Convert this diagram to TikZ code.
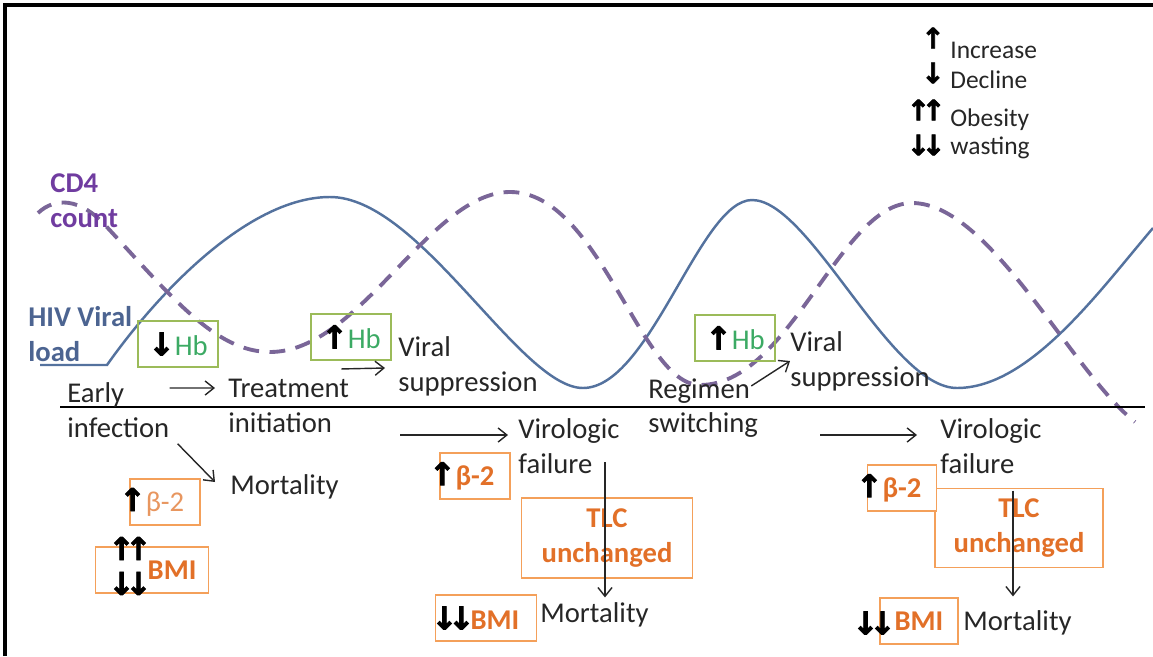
\documentclass[tikz,border=0pt]{standalone}
\usepackage{fontspec}
\setmainfont{Carlito}
\newfontfamily\arrfont{DejaVu Sans}[FakeBold=2.5, Scale=1.1]
\usepackage{tikz}
\usetikzlibrary{arrows.meta, positioning, calc}

\definecolor{txt}{RGB}{38,38,38}
\definecolor{viralblue}{RGB}{84,114,158}
\definecolor{cdpurple}{RGB}{122,102,152}
\definecolor{cdtext}{RGB}{112,60,160}
\definecolor{hivtext}{RGB}{76,100,145}
\definecolor{hbline}{RGB}{155,187,89}
\definecolor{hbtext}{RGB}{60,170,100}
\definecolor{oline}{RGB}{244,160,90}
\definecolor{otext}{RGB}{226,112,40}
\definecolor{otextlight}{RGB}{232,150,95}

\newcommand\arrup{{\color{black}\arrfont\bfseries ↑}}
\newcommand\arrdown{{\color{black}\arrfont\bfseries ↓}}
\newcommand\arrupup{{\color{black}\arrfont\bfseries ↑\kern-.3em↑}}
\newcommand\arrdowndown{{\color{black}\arrfont\bfseries ↓\kern-.3em↓}}

\begin{document}
\begin{tikzpicture}[
    x=0.02cm, y=-0.02cm,
    every node/.style={font=\fontsize{16.3}{19.8}\selectfont, text=txt},
    lbl/.style={inner sep=0pt, anchor=west, align=left},
    curvelbl/.style={lbl, font=\fontsize{16.3}{19.8}\selectfont\bfseries},
    lgd/.style={lbl, font=\fontsize{14.5}{17}\selectfont},
    glyph/.style={inner sep=0pt, align=center},
    lglyph/.style={glyph, font=\fontsize{14.5}{17}\selectfont},
    hbbox/.style={draw=hbline, line width=1.1pt, minimum width=1.6cm, minimum height=0.92cm, inner sep=0pt},
    obox/.style={draw=oline, line width=1.1pt, fill=white, minimum height=0.92cm, inner sep=0pt, text=otext, font=\fontsize{16.3}{19.8}\selectfont\bfseries},
    arrow/.style={->, >={Straight Barb[length=5pt,width=8pt]}, line width=0.8pt, draw=txt},
    viral/.style={draw=viralblue, line width=1.4pt},
    cdfour/.style={draw=cdpurple, line width=2.2pt, dash pattern=on 9pt off 6pt}
]
\useasboundingbox (0,0) rectangle (1153,656);

\draw[line width=2.4pt] (5,656) -- (5,5) -- (1153,5);

\draw[viral] (40,365) -- (107,365) .. controls (160,290) and (250,197) .. (330,197)
  .. controls (420,197) and (520,388) .. (583,388) .. controls (650,388) and (700,200) .. (752,200)
  .. controls (810,200) and (890,388) .. (957,388) .. controls (1030,388) and (1100,290) .. (1153,228);
\draw[cdfour] (38,213) .. controls (55,197) and (80,198) .. (105,225) .. controls (170,295) and (215,352) .. (270,352)
  .. controls (360,352) and (430,192) .. (510,192) .. controls (600,192) and (640,385) .. (700,385)
  .. controls (790,385) and (840,203) .. (912,203) .. controls (990,203) and (1070,370) .. (1135,422);
\draw[line width=1.7pt] (60,407) -- (1145,407);

\node[curvelbl, text=cdtext] (cd4) at (50,201) {CD4\\count};
\node[curvelbl, text=hivtext] (hiv) at (28,334) {HIV Viral\\load};

\node[lgd] (inc) at (950,50) {Increase};
\node[lgd, below=0.6cm of inc.base west, anchor=base west] (dec) {Decline};
\node[lgd, below=0.76cm of dec.base west, anchor=base west] (obe) {Obesity};
\node[lgd, below=0.56cm of obe.base west, anchor=base west] (was) {wasting};
\node[lglyph] (incsym) at (933,38) {\arrup};
\node[lglyph] (decsym) at (933,73) {\arrdown};
\node[lglyph] (obesym) at (926,110) {\arrupup};
\node[lglyph] (wassym) at (926,145) {\arrdowndown};

\node[lbl] (early) at (67,410) {Early\\infection};
\node[lbl] (treat) at (228,406) {Treatment\\initiation};
\node[lbl] (vsupA) at (398,366) {Viral\\suppression};
\node[lbl] (vfailA) at (518,446) {Virologic\\failure};
\node[lbl] (mortA) at (230,487) {Mortality};
\node[lbl] (regsw) at (648,408) {Regimen\\switching};
\node[lbl] (vsupB) at (790,361) {Viral\\suppression};
\node[lbl] (vfailB) at (940,446) {Virologic\\failure};
\node[lbl] (mortB) at (540,615) {Mortality};
\node[lbl] (mortC) at (963,623) {Mortality};

\node[hbbox] (hbA) at (178,344) {\arrdown{\color{hbtext}Hb}};
\node[hbbox] (hbB) at (351,337) {\arrup{\color{hbtext}Hb}};
\node[hbbox] (hbC) at (735,338) {\arrup{\color{hbtext}Hb}};

\node[obox, minimum width=1.4cm, font=\fontsize{16.3}{19.8}\selectfont, text=otextlight] (btwoA) at (165,502) {\llap{\arrup}β-2};
\node[obox, minimum width=2.26cm] (bmiA) at (152,570) {\kern1.4em BMI};
\node[glyph] (dblA) at (130,566) {\arrupup\\\arrdowndown};

\node[obox, minimum width=3.42cm, minimum height=1.6cm, align=center] (tlcA) at (607,538) {TLC\\unchanged};
\node[obox, minimum width=1.4cm] (btwoB) at (475,476) {\llap{\arrup}β-2};
\node[obox, minimum width=2.02cm] (bmiB) at (486,618) {\kern-0.75em\arrdowndown\kern-0.14em BMI};

\node[obox, minimum width=3.36cm, minimum height=1.58cm, align=center] (tlcC) at (1019,528) {TLC\\unchanged};
\node[obox, minimum width=1.38cm] (btwoC) at (902,488) {\llap{\arrup}β-2};
\node[obox, minimum width=1.56cm] (bmiC) at (919,621) {BMI};
\node[glyph] (dblC) at (874,623) {\arrdowndown};

\draw[arrow] ([yshift=0.44cm]early.east) -- ([xshift=-0.26cm, yshift=0.36cm]treat.west);
\draw[arrow] ([xshift=-0.16cm, yshift=0.2cm]treat.north east) -- ([xshift=-0.26cm, yshift=-0.04cm]vsupA.west);
\draw[arrow] ($(vsupA.west |- vfailA.west)+(2,-11)$) -- ($(vfailA.west)+(-10,-11)$);
\draw[arrow] ([xshift=0.16cm, yshift=-0.12cm]early.south east) -- ([xshift=-0.3cm, yshift=0.1cm]mortA.west);
\draw[arrow] ($(tlcA.north |- vfailA.east)+(-2,16)$) -- ($(tlcA.south |- mortB.north)+(-2,-5)$);
\draw[arrow] ([xshift=-0.14cm, yshift=-0.16cm]regsw.north east) -- (vsupB.west);
\draw[arrow] ($(vsupB.west |- vfailB.west)+(30,-11)$) -- ($(vfailB.west)+(-23,-11)$);
\draw[arrow] ($(tlcC.north)+(-6,3)$) -- ($(tlcC.north |- mortC.north)+(-6,-14)$);

\end{tikzpicture}
\end{document}
